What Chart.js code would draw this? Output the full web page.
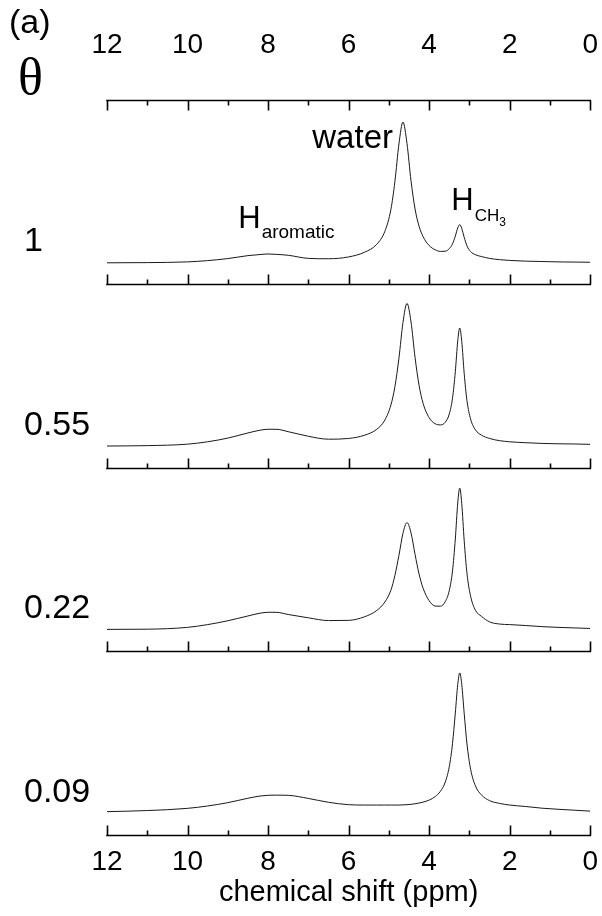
<!DOCTYPE html>
<html>
<head>
<meta charset="utf-8">
<script src="https://cdn.jsdelivr.net/npm/chart.js@4.4.1/dist/chart.umd.min.js"></script>
<style>
  html, body { margin: 0; padding: 0; background: #fff; }
  #wrap { width: 602px; height: 916px; }
</style>
</head>
<body>
<div id="wrap"><canvas id="nmr" width="602" height="916"></canvas></div>
<script>
// chemical shift grid (ppm), denser around the water and CH3 peaks
const ppm = [12, 11, 10, 9.5, 9, 8.5, 8.2, 8, 7.8, 7.5, 7, 6.5, 6, 5.6, 5.3, 5.1,
  4.95, 4.85, 4.75, 4.65, 4.55, 4.45, 4.35, 4.25, 4.15, 4.0, 3.85, 3.72, 3.6, 3.5,
  3.42, 3.35, 3.29, 3.24, 3.19, 3.13, 3.06, 2.97, 2.85, 2.7, 2.5, 2.25, 2, 1.6, 1.2,
  0.8, 0.4, 0];

const thetaLabels = ["1", "0.55", "0.22", "0.09"];

// intensities, each panel scaled 0..1 of its own height
const specTheta100 = [0.114, 0.115, 0.119, 0.126, 0.137, 0.153, 0.159, 0.162, 0.160, 0.155,
  0.138, 0.136, 0.146, 0.172, 0.215, 0.285, 0.404, 0.557, 0.761, 0.880, 0.763, 0.560,
  0.407, 0.313, 0.256, 0.208, 0.185, 0.176, 0.177, 0.191, 0.217, 0.259, 0.304, 0.322,
  0.301, 0.253, 0.206, 0.175, 0.158, 0.148, 0.138, 0.131, 0.127, 0.123, 0.121, 0.119,
  0.118, 0.117];

const specTheta055 = [0.117, 0.119, 0.127, 0.140, 0.160, 0.188, 0.203, 0.208, 0.208, 0.195,
  0.170, 0.154, 0.158, 0.176, 0.208, 0.258, 0.340, 0.440, 0.595, 0.789, 0.893, 0.792,
  0.599, 0.447, 0.349, 0.271, 0.238, 0.232, 0.246, 0.291, 0.377, 0.521, 0.689, 0.759,
  0.686, 0.513, 0.363, 0.263, 0.205, 0.176, 0.158, 0.146, 0.140, 0.135, 0.131, 0.129,
  0.128, 0.126];

const specTheta022 = [0.119, 0.120, 0.130, 0.145, 0.166, 0.192, 0.207, 0.212, 0.212, 0.200,
  0.182, 0.167, 0.168, 0.188, 0.222, 0.268, 0.332, 0.413, 0.522, 0.642, 0.700, 0.644,
  0.527, 0.420, 0.343, 0.275, 0.246, 0.245, 0.270, 0.330, 0.437, 0.611, 0.807, 0.888,
  0.803, 0.603, 0.423, 0.299, 0.223, 0.190, 0.160, 0.148, 0.145, 0.140, 0.134, 0.130,
  0.127, 0.124];

const specTheta009 = [0.127, 0.133, 0.145, 0.158, 0.176, 0.200, 0.212, 0.216, 0.217, 0.216,
  0.199, 0.178, 0.165, 0.163, 0.163, 0.163, 0.163, 0.163, 0.163, 0.164, 0.165, 0.167,
  0.170, 0.174, 0.179, 0.190, 0.209, 0.238, 0.288, 0.372, 0.497, 0.664, 0.819, 0.882,
  0.819, 0.663, 0.495, 0.358, 0.267, 0.218, 0.187, 0.172, 0.163, 0.155, 0.146, 0.140,
  0.135, 0.130];

const spectra = [specTheta100, specTheta055, specTheta022, specTheta009];

const SANS = '"Liberation Sans", Arial, sans-serif';

const datasets = spectra.map((vals, i) => ({
  label: "θ = " + thetaLabels[i],
  data: ppm.map((x, j) => ({ x: x, y: vals[j] + (spectra.length - 1 - i) })),
  borderColor: "#1a1a1a",
  borderWidth: 1,
  pointRadius: 0,
  fill: false,
  cubicInterpolationMode: "monotone"
}));

// small tick padding keeps the right edge at 0 ppm; lineHeight moves the labels
function ppmTicks(lineHeight) {
  return {
    stepSize: 1,
    autoSkip: false,
    maxRotation: 0,
    padding: 4,
    color: "#000",
    font: { family: SANS, size: 28, lineHeight: lineHeight },
    callback: v => (v % 2 === 0 ? String(v) : "")
  };
}

// axis lines with inward ticks between the stacked panels, plus the labels
const panelAxes = {
  id: "panelAxes",
  afterDraw(chart) {
    const { ctx, scales: { x, y } } = chart;
    const x0 = x.getPixelForValue(12);
    const x1 = x.getPixelForValue(0);
    const n = spectra.length;

    ctx.save();
    ctx.strokeStyle = "#000";
    ctx.lineWidth = 1.6;
    for (let b = 0; b <= n; b++) {
      const yy = Math.round(y.getPixelForValue(b)) + 0.5;
      const dir = b === n ? 1 : -1;
      ctx.beginPath();
      ctx.moveTo(x0 - 0.8, yy);
      ctx.lineTo(x1 + 0.8, yy);
      x.ticks.forEach(t => {
        const xx = Math.round(x.getPixelForValue(t.value)) + 0.5;
        const len = t.value % 2 === 0 ? 10 : 5;
        ctx.moveTo(xx, yy);
        ctx.lineTo(xx, yy + dir * len);
      });
      ctx.stroke();
    }

    ctx.fillStyle = "#000";
    ctx.textAlign = "left";

    // theta values
    ctx.font = "34px " + SANS;
    ctx.textBaseline = "middle";
    thetaLabels.forEach((lab, i) => {
      ctx.fillText(lab, 24, y.getPixelForValue(n - 1 - i + 0.23));
    });

    ctx.textBaseline = "alphabetic";
    ctx.font = "52px \"Liberation Serif\", \"Times New Roman\", serif";
    ctx.fillText("θ", 18, 94);
    ctx.font = "34px " + SANS;
    ctx.fillText("(a)", 9, 33);

    // peak labels
    ctx.font = "33px " + SANS;
    ctx.textAlign = "center";
    ctx.fillText("water", x.getPixelForValue(5.9), y.getPixelForValue(3.739));

    ctx.textAlign = "left";
    let hx = x.getPixelForValue(8.74), hy = y.getPixelForValue(3.303);
    ctx.font = "31px " + SANS;
    ctx.fillText("H", hx, hy);
    let w = ctx.measureText("H").width;
    ctx.font = "19px " + SANS;
    ctx.fillText("aromatic", hx + w + 1, hy + 10);

    hx = x.getPixelForValue(3.45);
    hy = y.getPixelForValue(3.401);
    ctx.font = "31px " + SANS;
    ctx.fillText("H", hx, hy);
    w = ctx.measureText("H").width;
    ctx.font = "17px " + SANS;
    ctx.fillText("CH", hx + w + 1, hy + 11);
    const w2 = ctx.measureText("CH").width;
    ctx.font = "12px " + SANS;
    ctx.fillText("3", hx + w + 1 + w2, hy + 16);
    ctx.restore();
  }
};

new Chart(document.getElementById("nmr"), {
  type: "line",
  data: { datasets: datasets },
  options: {
    responsive: false,
    devicePixelRatio: 1,
    animation: false,
    layout: { padding: { left: 107, right: 0, top: 0, bottom: 0 } },
    plugins: { legend: { display: false }, tooltip: { enabled: false } },
    scales: {
      x: {
        type: "linear",
        position: "bottom",
        min: 0,
        max: 12,
        reverse: true,
        grid: { display: false, drawTicks: false },
        border: { display: false },
        ticks: ppmTicks(1.64),
        title: {
          display: true,
          text: "chemical shift (ppm)",
          color: "#000",
          font: { family: SANS, size: 29, lineHeight: 1 },
          padding: { top: 0, bottom: 8.5 }
        },
        afterFit: scale => { scale.height = 81; }
      },
      xTop: {
        type: "linear",
        position: "top",
        axis: "x",
        min: 0,
        max: 12,
        reverse: true,
        grid: { display: false, drawTicks: false },
        border: { display: false },
        ticks: ppmTicks(3.64),
        afterFit: scale => { scale.height = 100; }
      },
      y: {
        type: "linear",
        min: 0,
        max: 4,
        display: false
      }
    }
  },
  plugins: [panelAxes]
});
</script>
</body>
</html>
